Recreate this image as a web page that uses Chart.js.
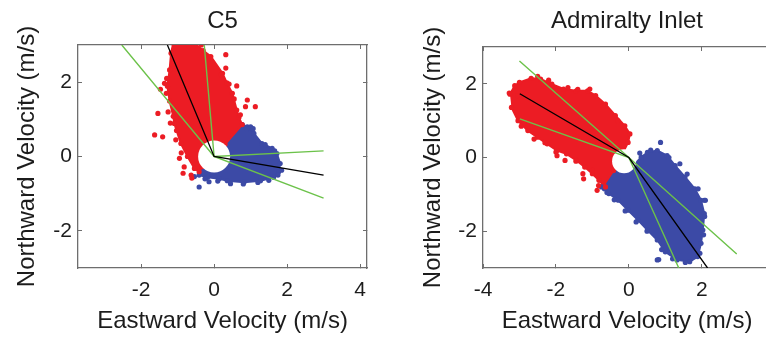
<!DOCTYPE html>
<html>
<head>
<meta charset="utf-8">
<script src="https://cdn.jsdelivr.net/npm/chart.js@4.4.1/dist/chart.umd.min.js"></script>
<style>
  html, body { margin: 0; padding: 0; background: #fff; overflow: hidden; width: 766px; height: 338px; }
  #c5 { position: absolute; left: 0; top: 0; }
  #ai { position: absolute; left: 383px; top: 0; }
</style>
</head>
<body>
<canvas id="c5" width="383" height="338"></canvas>
<canvas id="ai" width="400" height="338"></canvas>
<script>
// tick labels
const xTicksC5 = [-2, 0, 2, 4]
const xTicksAI = [-4, -2, 0, 2]
const yTicks = [-2, 0, 2]

// C5 : outline of the dense clouds (m/s), scattered points, principal axis lines
const c5RedShape = [
  {x: 0, y: 0}, {x: 0.30, y: 0.33}, {x: 0.77, y: 0.86}, {x: 0.68, y: 1.05}, {x: 0.62, y: 1.25},
  {x: 0.50, y: 1.70}, {x: 0.35, y: 1.98}, {x: 0.23, y: 2.24}, {x: -0.09, y: 2.69}, {x: -0.30, y: 2.85},
  {x: -0.54, y: 3.05}, {x: -1.12, y: 3.05}, {x: -1.18, y: 2.78}, {x: -1.22, y: 2.33}, {x: -1.28, y: 1.89},
  {x: -1.22, y: 1.49}, {x: -1.12, y: 1.08}, {x: -1.09, y: 0.89}, {x: -1.03, y: 0.70}, {x: -0.91, y: 0.35},
  {x: -0.73, y: 0.0}, {x: -0.54, y: -0.32}, {x: -0.41, y: -0.41}, {x: -0.33, y: -0.27}
]
const c5BlueShape = [
  {x: 0, y: 0}, {x: -0.33, y: -0.27}, {x: -0.41, y: -0.50}, {x: -0.18, y: -0.56}, {x: 0.14, y: -0.60},
  {x: 0.36, y: -0.65}, {x: 0.82, y: -0.69}, {x: 1.27, y: -0.65}, {x: 1.63, y: -0.56}, {x: 1.77, y: -0.41},
  {x: 1.81, y: -0.19}, {x: 1.72, y: 0.08}, {x: 1.59, y: 0.22}, {x: 1.31, y: 0.35}, {x: 1.09, y: 0.62},
  {x: 0.91, y: 0.80}, {x: 0.77, y: 0.86}, {x: 0.30, y: 0.33}
]
const c5RedDots = [
  {x: 0.32, y: 2.74}, {x: 0.32, y: 2.38}, {x: 0.62, y: 1.90}, {x: 0.91, y: 1.52}, {x: 1.13, y: 1.34},
  {x: 0.86, y: 1.34}, {x: 0.41, y: 1.95}, {x: -1.54, y: 1.16}, {x: -1.63, y: 0.58}, {x: -1.41, y: 0.53},
  {x: -1.31, y: 1.70}, {x: -1.36, y: 1.97}, {x: -1.47, y: 1.81}, {x: -0.82, y: -0.28}, {x: -0.63, y: -0.50},
  {x: -0.95, y: -0.05}, {x: -0.85, y: -0.45}, {x: -0.61, y: -0.58}, {x: 0.20, y: 2.20}, {x: 0.55, y: 1.55},
  {x: 0.72, y: 1.12}, {x: -1.30, y: 2.10}, {x: -1.26, y: 1.20}, {x: -1.20, y: 0.90}, {x: -1.05, y: 0.45},
  {x: -0.90, y: 0.10}, {x: -0.70, y: 2.98}, {x: -0.35, y: 3.0}
]
const c5BlueDots = [
  {x: -0.41, y: -0.82}, {x: -0.54, y: -0.54}, {x: 1.0, y: 0.80}, {x: 1.07, y: 0.75}, {x: 1.85, y: -0.37},
  {x: 0.45, y: -0.73}, {x: -0.14, y: -0.68}, {x: 1.2, y: -0.70}, {x: 0.8, y: -0.74}, {x: 1.5, y: -0.64},
  {x: 1.75, y: -0.50}, {x: 1.66, y: 0.15}, {x: 1.40, y: 0.32}, {x: 0.90, y: 0.74}, {x: -0.25, y: -0.60},
  {x: 0.10, y: -0.66}
]
const c5Hole = [{x: 0, y: 0}]
const c5Major = [{x: -1.28, y: 3}, {x: 0, y: 0}, {x: 3, y: -0.50}]
const c5GreenA = [{x: -2.53, y: 3}, {x: 0, y: 0}, {x: 3, y: 0.15}]
const c5GreenB = [{x: -0.27, y: 3}, {x: 0, y: 0}, {x: 3, y: -1.12}]

// Admiralty Inlet
const aiRedShape = [
  {x: -3.26, y: 1.72}, {x: -3.13, y: 1.95}, {x: -3.0, y: 2.04}, {x: -2.68, y: 2.15}, {x: -2.42, y: 2.13},
  {x: -2.11, y: 1.99}, {x: -1.79, y: 1.86}, {x: -1.44, y: 1.81}, {x: -1.13, y: 1.81}, {x: -0.91, y: 1.68},
  {x: -0.64, y: 1.45}, {x: -0.37, y: 1.14}, {x: -0.11, y: 0.86}, {x: 0.03, y: 0.64}, {x: -0.02, y: 0.41},
  {x: -0.20, y: 0.05}, {x: -0.42, y: -0.35}, {x: -0.69, y: -0.76}, {x: -0.82, y: -0.62}, {x: -1.0, y: -0.44},
  {x: -1.21, y: -0.26}, {x: -1.44, y: -0.08}, {x: -1.71, y: 0.10}, {x: -1.97, y: 0.19}, {x: -2.24, y: 0.37},
  {x: -2.51, y: 0.55}, {x: -2.77, y: 0.73}, {x: -3.04, y: 1.0}, {x: -3.22, y: 1.36}
]
const aiBlueShape = [
  {x: -0.69, y: -0.76}, {x: -0.42, y: -0.35}, {x: -0.10, y: -0.35}, {x: 0.12, y: -0.22}, {x: 0.34, y: 0.01},
  {x: 0.51, y: 0.14}, {x: 0.78, y: 0.19}, {x: 1.05, y: 0.05}, {x: 1.27, y: -0.22}, {x: 1.54, y: -0.53},
  {x: 1.81, y: -0.85}, {x: 1.98, y: -1.16}, {x: 2.07, y: -1.52}, {x: 2.03, y: -1.97}, {x: 1.98, y: -2.33},
  {x: 1.89, y: -2.69}, {x: 1.67, y: -2.83}, {x: 1.32, y: -2.78}, {x: 1.0, y: -2.56}, {x: 0.78, y: -2.24},
  {x: 0.51, y: -1.97}, {x: 0.25, y: -1.70}, {x: -0.02, y: -1.43}, {x: -0.29, y: -1.16}, {x: -0.55, y: -0.98},
  {x: -0.67, y: -0.85}
]
const aiRedDots = [
  {x: -1.26, y: -0.44}, {x: -1.24, y: -0.58}, {x: -1.97, y: 0.05}, {x: -1.75, y: -0.08}, {x: -0.64, y: -0.80},
  {x: -0.87, y: -0.89}, {x: -0.83, y: -0.76}, {x: -3.05, y: 1.68}, {x: -2.89, y: 0.93}, {x: -1.67, y: 1.90},
  {x: -1.07, y: 1.86}, {x: -3.28, y: 1.75}, {x: -2.50, y: 2.20}, {x: -2.20, y: 2.10}, {x: -1.40, y: 1.85},
  {x: -0.70, y: 1.40}, {x: -0.30, y: 1.0}, {x: -2.30, y: 0.40}, {x: -2.60, y: 0.50}, {x: -1.45, y: -0.10},
  {x: -1.0, y: -0.35}, {x: -2.0, y: 0.15}, {x: -2.95, y: 0.85}
]
const aiBlueDots = [
  {x: 0.87, y: 0.41}, {x: 1.40, y: -0.17}, {x: 2.07, y: -1.16}, {x: 0.78, y: -2.78}, {x: 0.82, y: -2.77},
  {x: 2.10, y: -1.16}, {x: 0.60, y: 0.20}, {x: 1.10, y: 0.0}, {x: 1.60, y: -0.45}, {x: 1.90, y: -0.85},
  {x: 2.08, y: -1.60}, {x: 2.05, y: -2.10}, {x: 1.95, y: -2.60}, {x: 1.55, y: -2.85}, {x: 1.20, y: -2.75},
  {x: 0.90, y: -2.50}, {x: 0.50, y: -2.0}, {x: 0.20, y: -1.75}, {x: -0.10, y: -1.45}, {x: -0.40, y: -1.15},
  {x: -0.60, y: -0.95}, {x: -0.75, y: -0.80}, {x: 0.30, y: 0.12}
]
const aiHole = [{x: -0.13, y: -0.10}]
const aiMajor = [{x: -2.99, y: 1.73}, {x: 0, y: 0}, {x: 2.16, y: -3.0}]
const aiGreenA = [{x: -3.0, y: 2.62}, {x: 0, y: 0}, {x: 2.96, y: -2.62}]
const aiGreenB = [{x: -2.99, y: 1.05}, {x: 0, y: 0}, {x: 1.37, y: -3.0}]

const RED = '#ec1c24'
const BLUE = '#3c4aa6'
const GREEN = '#6cc24a'
const AXIS = '#6e6e6e'
const TXT = '#1c1c1c'
const FONT = "'Liberation Sans', Arial, Helvetica, sans-serif"

function shape(data, color) {
  return { data: data, showLine: true, fill: 'shape', tension: 0, backgroundColor: color, borderColor: color,
    borderWidth: 2, pointRadius: 2.6, pointBackgroundColor: color, pointBorderWidth: 0 }
}
function dots(data, color) {
  return { data: data, showLine: false, pointRadius: 2.6, backgroundColor: color, borderWidth: 0 }
}
function line(data, color, w) {
  return { data: data, showLine: true, fill: false, tension: 0, borderColor: color, borderWidth: w, pointRadius: 0 }
}
function hole(data, r) {
  return { data: data, showLine: false, pointRadius: r, backgroundColor: '#fff', borderWidth: 0 }
}

function setTicks(list) {
  return function (scale) { scale.ticks = list.map(v => ({ value: v })) }
}

function panel(id, p) {
  const tickFont = { family: FONT, size: 21 }
  const titleFont = { family: FONT, size: 24 }
  const grid = { drawOnChartArea: false, drawTicks: true, tickLength: -4, color: AXIS, lineWidth: 1 }
  const border = { display: true, color: AXIS, width: 1.3 }

  return new Chart(document.getElementById(id), {
    type: 'scatter',
    data: {
      // first dataset is painted last (on top)
      datasets: [
        line(p.major, '#000', 1.3),
        line(p.greenA, GREEN, 1.4),
        line(p.greenB, GREEN, 1.4),
        hole(p.hole, p.holeR),
        dots(p.redDots, RED),
        dots(p.blueDots, BLUE),
        shape(p.red, RED),
        shape(p.blue, BLUE)
      ]
    },
    options: {
      responsive: false,
      animation: false,
      events: [],
      plugins: { legend: { display: false }, tooltip: { enabled: false } },
      scales: {
        x: {
          type: 'linear', position: 'bottom', min: p.xMin, max: p.xMax,
          afterBuildTicks: setTicks(p.xTicks),
          afterFit: s => { s.height = 70 },
          grid: grid, border: border,
          ticks: { font: tickFont, color: TXT, padding: 14, maxRotation: 0, autoSkip: false },
          title: { display: true, text: 'Eastward Velocity (m/s)', font: titleFont, color: TXT, padding: { top: 0, bottom: 2 } }
        },
        xTop: {
          type: 'linear', position: 'top', min: p.xMin, max: p.xMax,
          afterBuildTicks: setTicks(p.xTicks),
          afterFit: s => { s.height = p.top },
          grid: grid, border: border,
          ticks: { display: false },
          title: { display: true, text: p.title, font: titleFont, color: TXT, padding: { top: 7, bottom: 0 } }
        },
        y: {
          type: 'linear', position: 'left', min: -3, max: 3,
          afterBuildTicks: setTicks(yTicks),
          afterFit: s => { s.width = p.left },
          grid: grid, border: border,
          ticks: { font: tickFont, color: TXT, padding: 10 },
          title: { display: true, text: 'Northward Velocity (m/s)', font: titleFont, color: TXT, padding: { top: p.yTitlePad, bottom: 0 } }
        },
        yRight: {
          type: 'linear', position: 'right', min: -3, max: 3,
          afterBuildTicks: setTicks(yTicks),
          afterFit: s => { s.width = p.right },
          grid: grid, border: border,
          ticks: { display: false }
        }
      }
    }
  })
}

panel('c5', {
  title: 'C5', xMin: -3.73, xMax: 4.19, xTicks: xTicksC5, left: 78, right: 14, top: 45, yTitlePad: 13,
  red: c5RedShape, blue: c5BlueShape, redDots: c5RedDots, blueDots: c5BlueDots,
  hole: c5Hole, holeR: 16, major: c5Major, greenA: c5GreenA, greenB: c5GreenB
})

panel('ai', {
  title: 'Admiralty Inlet', xMin: -4, xMax: 3.9, xTicks: xTicksAI, left: 100, right: 3, top: 47, yTitlePad: 36,
  red: aiRedShape, blue: aiBlueShape, redDots: aiRedDots, blueDots: aiBlueDots,
  hole: aiHole, holeR: 12, major: aiMajor, greenA: aiGreenA, greenB: aiGreenB
})
</script>
</body>
</html>
